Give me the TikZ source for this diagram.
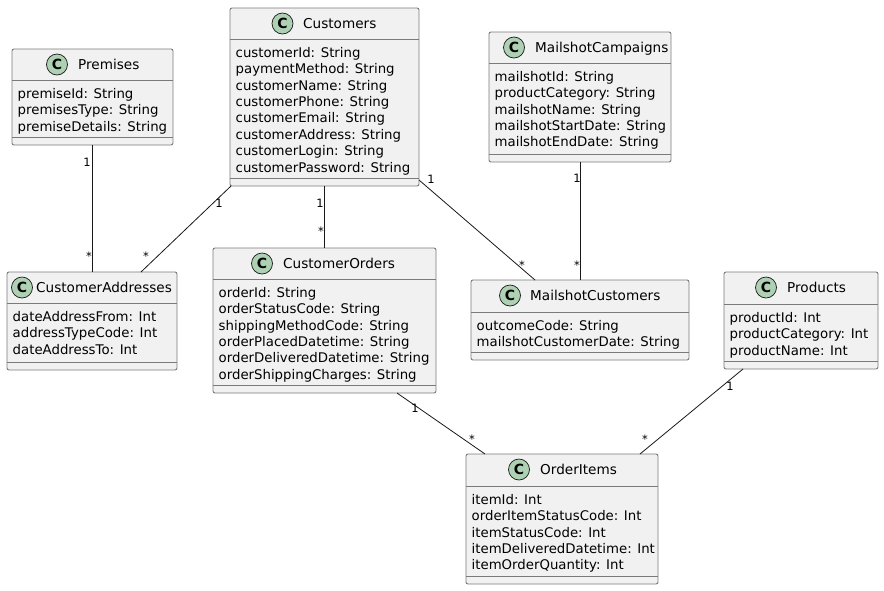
\documentclass[tikz,border=0pt]{standalone}
\usepackage{fontspec}
\setmainfont{DejaVu Sans}
\usetikzlibrary{calc}
\definecolor{boxfill}{HTML}{F1F1F1}
\definecolor{boxline}{HTML}{7A7A7A}
\definecolor{spot}{HTML}{ADD1B2}
\definecolor{ink}{HTML}{181818}
\tikzset{
  x=1pt,y=-1pt,
  classbox/.style={draw=boxline,fill=boxfill,line width=0.9pt,rounded corners=2pt,inner sep=0pt,outer sep=0pt},
  sepline/.style={draw=boxline,line width=0.9pt},
  spotc/.style={circle,draw=ink,fill=spot,line width=0.7pt,minimum size=21pt,inner sep=0pt,font=\fontsize{14}{16}\selectfont\bfseries,text=black},
  ttl/.style={anchor=base west,inner sep=0pt,font=\fontsize{13.6}{16}\selectfont,text=black},
  mem/.style={anchor=north west,inner sep=0pt,align=left,font=\fontsize{13.3}{16.4}\selectfont,text=black},
  conn/.style={draw=ink,line width=0.8pt},
  mult/.style={inner sep=0pt,font=\fontsize{11.5}{13}\selectfont,text=black},
}
% name, x1, y1, x2, y2, header y, footer y, circle cx, title x, title, members
\newcommand{\umlclass}[9]{%
  \node[classbox,anchor=north west,minimum width=#4 pt-#2 pt,minimum height=#5 pt-#3 pt] (#1) at (#2,#3) {};
  \draw[sepline] (#2,#6) -- (#4,#6);
  \draw[sepline] (#2,#7) -- (#4,#7);
  \umlrest{#1}{#2}{#3}{#6}{#8}{#9}%
}
\newcommand{\umlrest}[6]{%
  \node[spotc] (#1c) at (#5,#3+15.5) {C};
  \umltitle{#1}{#2}{#3}{#4}{#6}%
}
\newcommand{\umltitle}[5]{%
  \def\tmpname{#1}\def\tmpx{#2}\def\tmpy{#3}\def\tmphy{#4}\def\tmpt{#5}%
  \umlfinish
}
\newcommand{\umlfinish}[2]{%
  \node[ttl] (\tmpname t) at (#1,\tmpy+20) {\tmpt};
  \node[mem] (\tmpname m) at (\tmpx+5.5,\tmphy+8) {#2};
}
\begin{document}
\begin{tikzpicture}
\useasboundingbox (0,0) rectangle (884,590);
\umlclass{prem}{12}{49}{173}{145}{80}{137}{57}{Premises}{78}{premiseId: String\\premisesType: String\\premiseDetails: String}
\umlclass{cust}{230}{8}{419}{186}{39}{178}{282.5}{Customers}{303}{customerId: String\\paymentMethod: String\\customerName: String\\customerPhone: String\\customerEmail: String\\customerAddress: String\\customerLogin: String\\customerPassword: String}
\umlclass{addr}{7}{272}{177}{370}{303}{362}{22}{CustomerAddresses}{36}{dateAddressFrom: Int\\addressTypeCode: Int\\dateAddressTo: Int}
\umlclass{ord}{213}{248}{436}{393}{279}{385}{262}{CustomerOrders}{283}{orderId: String\\orderStatusCode: String\\shippingMethodCode: String\\orderPlacedDatetime: String\\orderDeliveredDatetime: String\\orderShippingCharges: String}
\umlclass{camp}{489}{32}{671}{162}{63}{154}{514}{MailshotCampaigns}{535}{mailshotId: String\\productCategory: String\\mailshotName: String\\mailshotStartDate: String\\mailshotEndDate: String}
\umlclass{mc}{471}{280}{689}{360}{312}{352}{510}{MailshotCustomers}{530}{outcomeCode: String\\mailshotCustomerDate: String}
\umlclass{prod}{724}{272}{878}{369}{304}{361}{766}{Products}{787}{productId: Int\\productCategory: Int\\productName: Int}
\umlclass{items}{466}{454}{658}{584}{486}{576}{519}{OrderItems}{540}{itemId: Int\\orderItemStatusCode: Int\\itemStatusCode: Int\\itemDeliveredDatetime: Int\\itemOrderQuantity: Int}
\draw[conn] ($(prem.south west)+(80,0)$) -- ($(addr.north west)+(85,0)$);
\draw[conn] ($(cust.south west)+(1,0)$) -- ($(addr.north west)+(134,0)$);
\draw[conn] ($(cust.south west)+(94,0)$) -- ($(ord.north west)+(111,0)$);
\draw[conn] ($(cust.south east)+(0,-6)$) -- ($(mc.north west)+(64,0)$);
\draw[conn] ($(camp.south west)+(91,0)$) -- ($(mc.north west)+(109,0)$);
\draw[conn] ($(ord.south west)+(184,0)$) -- ($(items.north west)+(19,0)$);
\draw[conn] ($(prod.south west)+(19,0)$) -- ($(items.north west)+(174,0)$);
\node[mult] (l1) at (87,162) {1};
\node[mult] (l2) at (89,256) {*};
\node[mult] (l3) at (219,203) {1};
\node[mult] (l4) at (146,256) {*};
\node[mult] (l5) at (320,203) {1};
\node[mult] (l6) at (321,231) {*};
\node[mult] (l7) at (431,179) {1};
\node[mult] (l8) at (522,265) {*};
\node[mult] (l9) at (577,178) {1};
\node[mult] (l10) at (577,265) {*};
\node[mult] (l11) at (415,408) {1};
\node[mult] (l12) at (472,439) {*};
\node[mult] (l13) at (730,386) {1};
\node[mult] (l14) at (645,439) {*};
\end{tikzpicture}
\end{document}
